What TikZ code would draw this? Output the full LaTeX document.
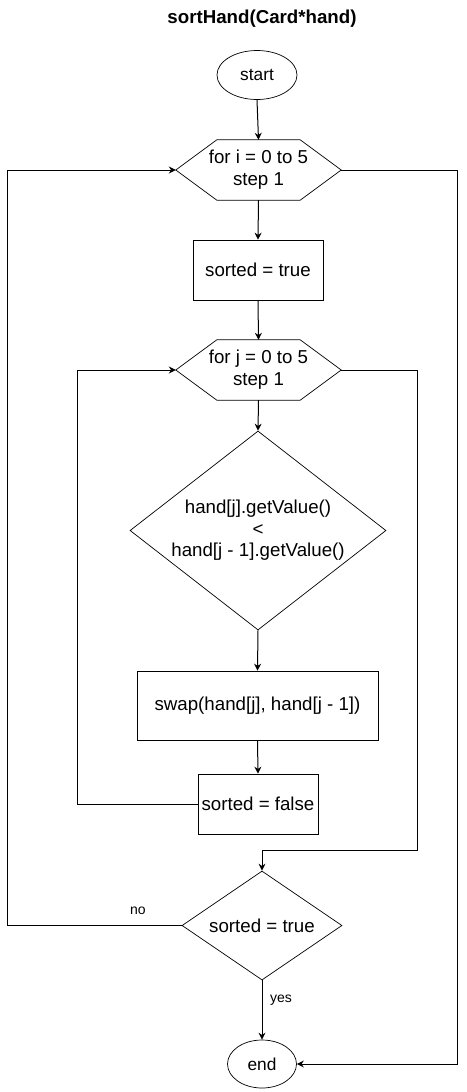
\documentclass[tikz,border=0pt]{standalone}
\usepackage{fontspec}
\setmainfont{Liberation Sans}
\usetikzlibrary{shapes.geometric,arrows.meta}
\begin{document}
\begin{tikzpicture}[x=1pt,y=-1pt,
  every node/.style={font=\fontsize{18.7}{22}\selectfont},
  shp/.style={draw, line width=0.7pt, inner sep=0pt},
  procbox/.style={shp, rectangle},
  termbox/.style={shp, ellipse, font=\fontsize{17.3}{20}\selectfont},
  decbox/.style={shp, diamond, align=center},
  hexbox/.style={rectangle, inner sep=0pt, minimum width=165pt, minimum height=60pt, align=center},
  hexline/.style={line width=0.7pt},
  conn/.style={line width=1pt},
  arr/.style={conn, -{Stealth[length=7pt,width=7pt]}},
  lbl/.style={font=\fontsize{14}{16}\selectfont}
]
\useasboundingbox (0,0) rectangle (466,1092);

\node[font=\bfseries\fontsize{18.7}{22}\selectfont] (title) at (262,19) {sortHand(Card*hand)};

\node[termbox, minimum width=80pt, minimum height=49pt] (start) at (257,75) {start};

\node[hexbox] (h1) at (258.5,170) {for i = 0 to 5\\step 1};
\draw[hexline] (h1.west) -- ([xshift=41pt]h1.north west) -- ([xshift=-41pt]h1.north east) -- (h1.east) -- ([xshift=-41pt]h1.south east) -- ([xshift=41pt]h1.south west) -- cycle;

\node[procbox, minimum width=130pt, minimum height=60pt] (st) at (258,270) {sorted = true};

\node[hexbox] (h2) at (258.5,370) {for j = 0 to 5\\step 1};
\draw[hexline] (h2.west) -- ([xshift=41pt]h2.north west) -- ([xshift=-41pt]h2.north east) -- (h2.east) -- ([xshift=-41pt]h2.south east) -- ([xshift=41pt]h2.south west) -- cycle;

\node[decbox, minimum width=256pt, minimum height=199pt, aspect=1.29, font=\fontsize{18.7}{21.5}\selectfont] (d1) at (258,530.5) {hand[j].getValue()\\<\\hand[j - 1].getValue()};

\node[procbox, minimum width=241pt, minimum height=69pt] (sw) at (257.5,705.5) {swap(hand[j], hand[j - 1])};

\node[procbox, minimum width=120pt, minimum height=60pt] (sf) at (258,804) {sorted = false};

\node[decbox, minimum width=160pt, minimum height=109pt, aspect=1.47] (d2) at (262,925.5) {sorted = true};

\node[termbox, minimum width=69pt, minimum height=48pt] (end) at (262,1064) {end};

% coordinates for routing
\coordinate (l2) at (77,804);
\coordinate (r2) at (417,850);
\coordinate (l1) at (7,925.5);
\coordinate (r1) at (457,1064);

% connectors
\draw[arr] (start.south) -- (h1.north);
\draw[arr] (h1.south) -- (st.north);
\draw[arr] (st.south) -- (h2.north);
\draw[arr] (h2.south) -- (d1.north);
\draw[arr] (d1.south) -- (sw.north);
\draw[arr] (sw.south) -- (sf.north);
\draw[arr] (sf.west) -- (l2) |- (h2.west);
\draw[arr] (h2.east) -| (r2) -| (d2.north);
\draw[arr] (d2.west) -- (l1) |- (h1.west);
\draw[arr] (d2.south) -- (end.north);
\draw[arr] (h1.east) -| (r1) -- (end.east);

\node[lbl] (no) at (138,911) {no};
\node[lbl] (yes) at (281,1000) {yes};
\end{tikzpicture}
\end{document}
